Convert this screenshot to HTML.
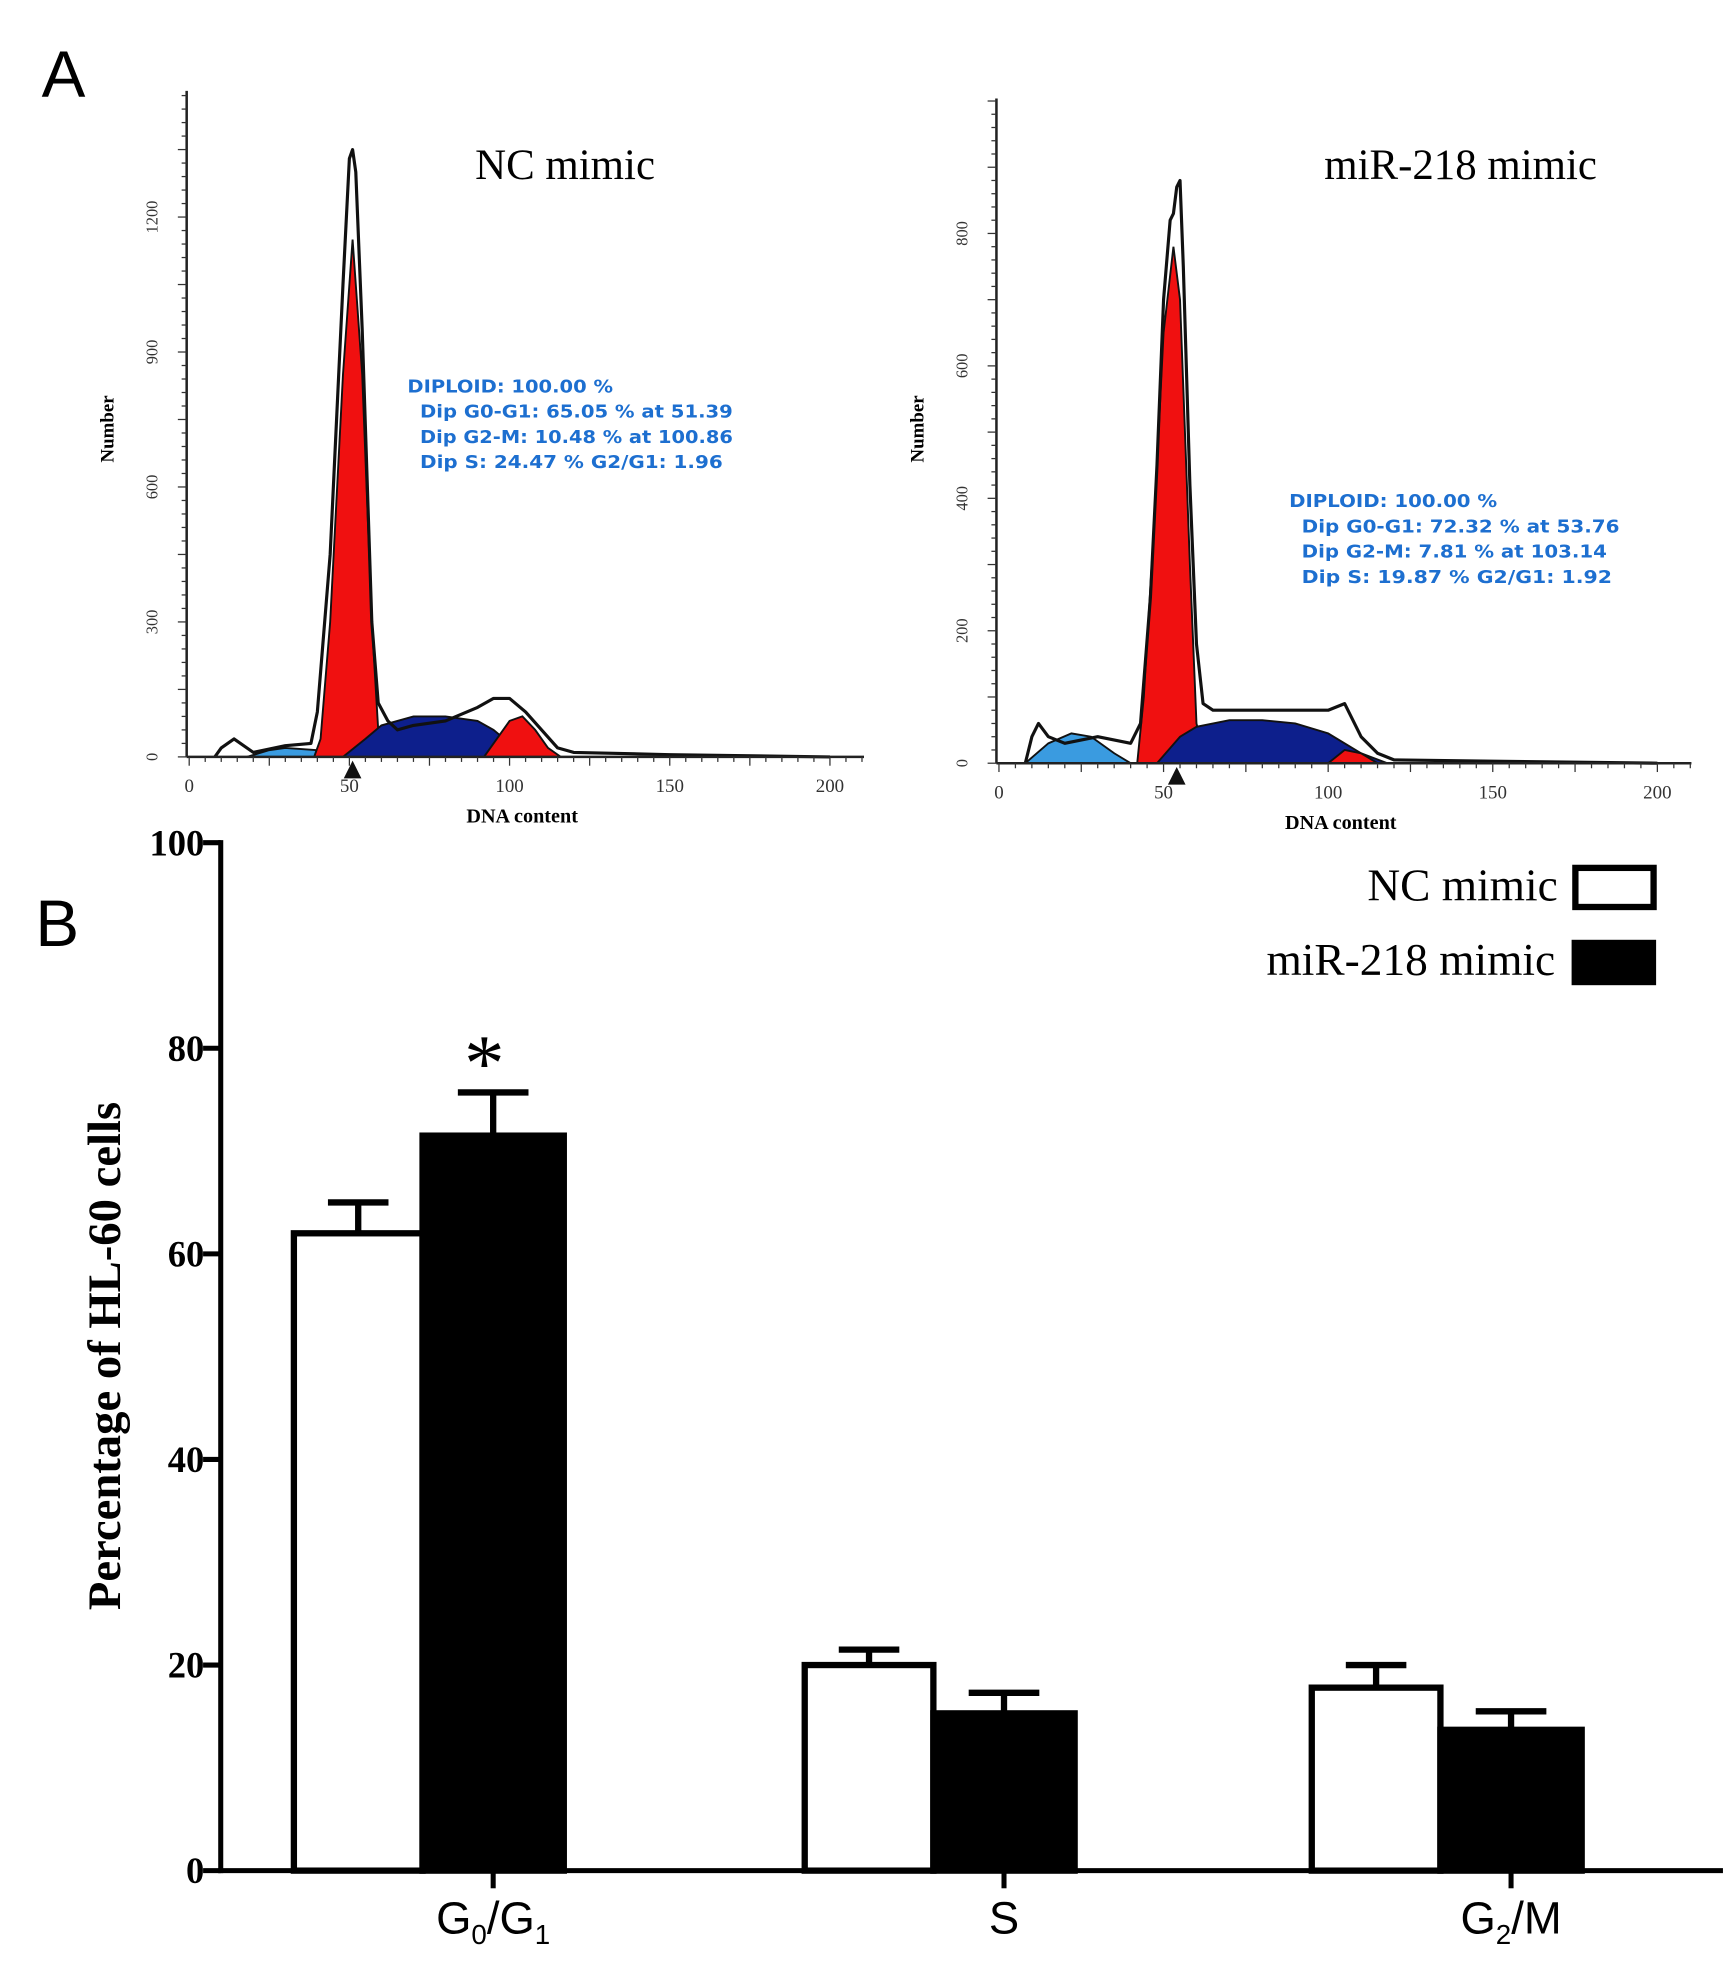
<!DOCTYPE html>
<html><head><meta charset="utf-8"><style>
html,body{margin:0;padding:0;background:#fff}
svg{display:block}
</style></head><body>
<svg id="fig" xmlns="http://www.w3.org/2000/svg" width="1728" height="1983" viewBox="0 0 1370 1572">
<text x="33" y="77" font-family="Liberation Sans, sans-serif" font-size="52">A</text>
<text x="28" y="750" font-family="Liberation Sans, sans-serif" font-size="52">B</text>
<g id="hists"></g>
<g id="bars"></g>
</svg>
<script>
// ---- Histogram data ----
const h1OutlineX=[8,10,14,20,30,38,40,44,48,50,51,52,54,57,59,62,65,70,80,90,95,100,105,110,115,120,150,200];
const h1OutlineY=[0,20,40,10,25,30,100,450,1050,1330,1350,1300,950,300,120,80,60,70,80,110,130,130,100,60,20,10,5,0];
const h1DebrisX=[18,25,30,40,46];const h1DebrisY=[0,15,20,15,0];
const h1G1X=[39,41,44,48,51,54,57,59,62];const h1G1Y=[0,40,300,850,1150,850,300,60,0];
const h1SX=[48,55,60,70,80,90,95,100,105,110];const h1SY=[0,40,70,90,90,80,60,30,10,0];
const h1G2X=[92,96,100,104,108,112,116];const h1G2Y=[0,40,80,90,60,20,0];
const h1YTicks=[0,300,600,900,1200];
const h2OutlineX=[8,10,12,15,20,30,40,43,46,48,50,52,53,54,55,56,58,60,62,65,70,80,90,100,105,110,115,120,150,200];
const h2OutlineY=[0,40,60,40,30,40,30,60,250,450,700,820,830,870,880,750,420,180,90,80,80,80,80,80,90,40,15,5,3,0];
const h2DebrisX=[8,15,22,28,35,40];const h2DebrisY=[0,30,45,40,15,0];
const h2G1X=[42,44,47,50,53,55,58,60,63];const h2G1Y=[0,100,350,650,780,700,300,60,0];
const h2SX=[48,55,60,70,80,90,100,110,118];const h2SY=[0,40,55,65,65,60,45,15,0];
const h2G2X=[100,105,110,115];const h2G2Y=[0,20,15,0];
const h2YTicks=[0,200,400,600,800];
const xTicks=[0,50,100,150,200];
// ---- Bar chart data ----
const categories=["G0/G1","S","G2/M"];
const ncValues=[62,20,17.8];
const ncErrors=[3,1.5,2.2];
const mirValues=[71.5,15.3,13.7];
const mirErrors=[4.2,2,1.8];
const yTicks=[0,20,40,60,80,100];

const NS="http://www.w3.org/2000/svg";
function mk(tag,attrs,parent,text){const e=document.createElementNS(NS,tag);for(const k in attrs)e.setAttribute(k,attrs[k]);if(text!==undefined)e.textContent=text;parent.appendChild(e);return e;}

function histogram(P){
  const g=mk('g',{},document.getElementById('hists'));
  
  
  const sx=v=>P.x0+v*(P.x200-P.x0)/200;
  const sy=v=>P.y0-v*P.ppu;
  const area=(xs,ys,fill,nm)=>{let d='M'+sx(xs[0])+','+P.y0;xs.forEach((x,i)=>d+=' L'+sx(x)+','+sy(ys[i]));d+=' L'+sx(xs[xs.length-1])+','+P.y0+'Z';
    const p=mk('path',{d:d,fill:fill,stroke:'#111','stroke-width':1.5},g);
    
    };
  area(P.dx,P.dy,'#3a9be0','debris-area');
  area(P.g1x,P.g1y,'#f01010','g0g1-area');
  area(P.sx,P.sy,'#0d1f8c','s-phase-area');
  area(P.g2x,P.g2y,'#f01010','g2m-area');
  let d='';P.ox.forEach((x,i)=>d+=(i?' L':'M')+sx(x)+','+sy(P.oy[i]));
  const ol=mk('path',{d:d,fill:'none',stroke:'#111','stroke-width':2.5,'stroke-linejoin':'round'},g);
  
  
  mk('line',{x1:P.x0-2,y1:P.yTop,x2:P.x0-2,y2:P.y0,stroke:'#222','stroke-width':2},g);
  mk('line',{x1:P.x0-2,y1:P.y0,x2:P.x200+27,y2:P.y0,stroke:'#222','stroke-width':2},g);
  for(let v=0;v<=(P.y0-P.yTop)/P.ppu;v+=P.yTicks[1]/10){const y=sy(v);mk('line',{x1:P.x0-2-(Math.round(v/(P.yTicks[1]/10))%5===0?7:4),y1:y,x2:P.x0-2,y2:y,stroke:'#333','stroke-width':1},g);}
  for(let v=0;v<=210;v+=5){const x=sx(v);mk('line',{x1:x,y1:P.y0,x2:x,y2:P.y0+(v%25===0?7:4),stroke:'#333','stroke-width':1},g);}
  P.yTicks.forEach(t=>{const y=sy(t);const tx=mk('text',{x:P.x0-25,y:y,transform:`rotate(-90 ${P.x0-25} ${y})`,'text-anchor':'middle','font-family':'Liberation Serif, serif','font-size':13,fill:'#333'},g,String(t));
    
    });
  xTicks.forEach(t=>{const tx=mk('text',{x:sx(t),y:P.y0+28,'text-anchor':'middle','font-family':'Liberation Serif, serif','font-size':15,fill:'#333'},g,String(t));
    
    });
  const m=mk('path',{d:`M${sx(P.marker)-7},${P.y0+17} L${sx(P.marker)},${P.y0+3} L${sx(P.marker)+7},${P.y0+17}Z`,fill:'#111'},g);
  
  
  const xt=mk('text',{x:sx(100)+10,y:P.y0+52,'text-anchor':'middle','font-family':'Liberation Serif, serif','font-size':16,'font-weight':'bold'},g,'DNA content');
  
  
  const yt=mk('text',{x:P.x0-60,y:340,transform:`rotate(-90 ${P.x0-60} 340)`,'text-anchor':'middle','font-family':'Liberation Serif, serif','font-size':15,'font-weight':'bold'},g,'Number');
  
  
  const tt=mk('text',{x:P.titleX,y:142,'text-anchor':'middle','font-family':'Liberation Serif, serif','font-size':34},g,P.title);
  
  
  P.ann.forEach((s,i)=>{const a=mk('text',{x:P.annX+(i?10:0),y:P.annY+i*20,'font-family':'DejaVu Sans, sans-serif','font-size':14,'font-weight':'bold',fill:'#1d6fd0',textLength:P.annW[i],lengthAdjust:'spacingAndGlyphs'},g,s);
    
    });
}
histogram({name:'histogram-nc-mimic',x0:150,x200:658,y0:600,yTop:72,ppu:107/300,ox:h1OutlineX,oy:h1OutlineY,dx:h1DebrisX,dy:h1DebrisY,g1x:h1G1X,g1y:h1G1Y,sx:h1SX,sy:h1SY,g2x:h1G2X,g2y:h1G2Y,yTicks:h1YTicks,marker:51,title:'NC mimic',titleX:448,annX:323,annY:311,annW:[163,248,248,240],
  ann:['DIPLOID: 100.00 %','Dip G0-G1: 65.05 % at 51.39','Dip G2-M: 10.48 % at 100.86','Dip S: 24.47 %  G2/G1: 1.96']});
histogram({name:'histogram-mir218-mimic',x0:792,x200:1314,y0:605,yTop:78,ppu:105/200,ox:h2OutlineX,oy:h2OutlineY,dx:h2DebrisX,dy:h2DebrisY,g1x:h2G1X,g1y:h2G1Y,sx:h2SX,sy:h2SY,g2x:h2G2X,g2y:h2G2Y,yTicks:h2YTicks,marker:54,title:'miR-218 mimic',titleX:1158,annX:1022,annY:402,annW:[165,252,242,246],
  ann:['DIPLOID: 100.00 %','Dip G0-G1: 72.32 % at 53.76','Dip G2-M: 7.81 % at 103.14','Dip S: 19.87 %  G2/G1: 1.92']});

// ---- Bar chart ----
(function(){
  const g=document.getElementById('bars');
  
  
  const Y0=1483,PPU=8.15,AX=175;
  const sy=v=>Y0-v*PPU;
  const cx=[391,796,1198];
  mk('line',{x1:AX,y1:sy(100)-2,x2:AX,y2:Y0+2,stroke:'#000','stroke-width':4},g);
  mk('line',{x1:AX-2,y1:Y0,x2:1366,y2:Y0,stroke:'#000','stroke-width':4},g);
  yTicks.forEach(t=>{mk('line',{x1:AX-14,y1:sy(t),x2:AX,y2:sy(t),stroke:'#000','stroke-width':4},g);
    const tx=mk('text',{x:AX-13,y:sy(t)+10,'text-anchor':'end','font-family':'Liberation Serif, serif','font-size':29,'font-weight':'bold'},g,String(t));
    
    });
  const yt=mk('text',{x:95,y:1075,transform:'rotate(-90 95 1075)','text-anchor':'middle','font-family':'Liberation Serif, serif','font-size':37,'font-weight':'bold'},g,'Percentage of HL-60 cells');
  
  
  const lbl=[['G','0','/G','1'],['S'],['G','2','/M']];
  categories.forEach((c,i)=>{
    mk('line',{x1:cx[i],y1:Y0,x2:cx[i],y2:Y0+14,stroke:'#000','stroke-width':4},g);
    const t=mk('text',{x:cx[i],y:1533,'text-anchor':'middle','font-family':'Liberation Sans, sans-serif','font-size':36},g);
    
    
    lbl[i].forEach((s,j)=>{mk('tspan',j%2===1?{'font-size':22,dy:8}:(j>0?{dy:-8}:{}),t,s);});
    const w1=102,w2=112;
    const xnc=cx[i]-158,xm=xnc+w1;
    const eb1=mk('path',{d:`M${xnc+w1/2},${sy(ncValues[i])} V${sy(ncValues[i]+ncErrors[i])} M${xnc+w1/2-24},${sy(ncValues[i]+ncErrors[i])} H${xnc+w1/2+24}`,stroke:'#000','stroke-width':5,fill:'none'},g);
    
    
    const b1=mk('rect',{x:xnc,y:sy(ncValues[i]),width:w1,height:Y0-sy(ncValues[i]),fill:'#fff',stroke:'#000','stroke-width':5},g);
    
    
    const eb2=mk('path',{d:`M${xm+w2/2},${sy(mirValues[i])} V${sy(mirValues[i]+mirErrors[i])} M${xm+w2/2-28},${sy(mirValues[i]+mirErrors[i])} H${xm+w2/2+28}`,stroke:'#000','stroke-width':5,fill:'none'},g);
    
    
    const b2=mk('rect',{x:xm,y:sy(mirValues[i]),width:w2,height:Y0-sy(mirValues[i]),fill:'#000',stroke:'#000','stroke-width':5},g);
    
    
    if(i===0){const s=mk('text',{x:xm+w2/2-7,y:sy(mirValues[i]+mirErrors[i])-2,'text-anchor':'middle','font-family':'Liberation Serif, serif','font-size':64},g,'*');
      
      }
  });
  const l1=mk('text',{x:1235,y:714,'text-anchor':'end','font-family':'Liberation Serif, serif','font-size':36},g,'NC mimic');
  
  
  const r1=mk('rect',{x:1249,y:688,width:62,height:31,fill:'#fff',stroke:'#000','stroke-width':5},g);
  
  
  const l2=mk('text',{x:1233,y:773,'text-anchor':'end','font-family':'Liberation Serif, serif','font-size':36},g,'miR-218 mimic');
  
  
  const r2=mk('rect',{x:1246,y:745,width:67,height:36,fill:'#000'},g);
  
  
})();
</script>
</body></html>
